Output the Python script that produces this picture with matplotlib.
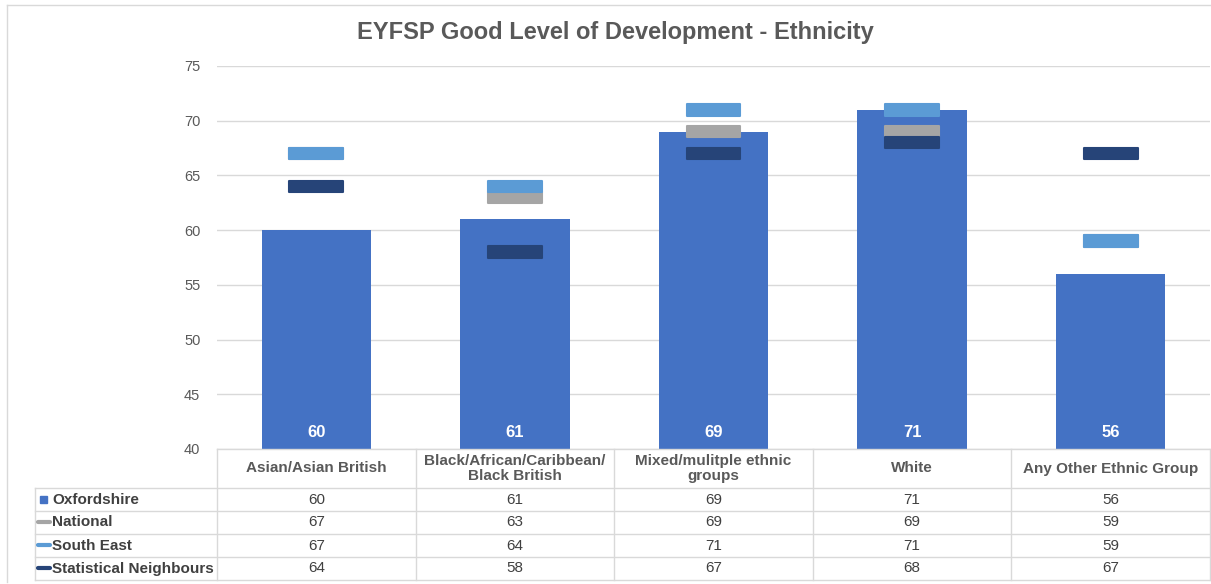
import numpy as np
import matplotlib.pyplot as plt
from matplotlib.patches import Rectangle
from matplotlib.lines import Line2D
import matplotlib.transforms as mtransforms

plt.rcParams['font.family'] = ['Liberation Sans', 'DejaVu Sans']

categories = ["Asian/Asian British", "Black/African/Caribbean/\nBlack British",
              "Mixed/mulitple ethnic\ngroups", "White", "Any Other Ethnic Group"]
oxfordshire = [60, 61, 69, 71, 56]
national = [67, 63, 69, 69, 59]
south_east = [67, 64, 71, 71, 59]
stat_neighbours = [64, 58, 67, 68, 67]

series_names = ["Oxfordshire", "National", "South East", "Statistical Neighbours"]
series_vals = [oxfordshire, national, south_east, stat_neighbours]
colors = ["#4472C4", "#A5A5A5", "#5B9BD5", "#264478"]

W, H = 1211, 584
fig = plt.figure(figsize=(W / 100, H / 100), dpi=100)

def fy(py):
    return 1 - py / H

def fx(px):
    return px / W

# outer chart frame
fig.add_artist(Line2D([fx(7), fx(7)], [fy(5), fy(582)], color="#D9D9D9", lw=1))
fig.add_artist(Line2D([fx(7), 1], [fy(5), fy(5)], color="#D9D9D9", lw=1))

ax = fig.add_axes([fx(217), fy(449), fx(1210) - fx(217), fy(66) - fy(449)])
x = np.arange(len(categories))
ax.set_xlim(-0.5, len(categories) - 0.5)
ax.set_ylim(40, 75)

ax.bar(x, oxfordshire, width=0.55, color=colors[0], zorder=2)
for xi, v in zip(x, oxfordshire):
    ax.text(xi, 41.5, str(v), ha="center", va="center", color="white",
            fontsize=12, fontweight="bold", zorder=5)

# marker dashes
mw, mh = 0.27, 1.05
for vals, col in zip(series_vals[1:], colors[1:]):
    for xi, v in zip(x, vals):
        ax.add_patch(Rectangle((xi - mw / 2, v - mh / 2), mw, mh, facecolor=col,
                               edgecolor=col, lw=1.5, joinstyle="round", zorder=3))

ax.set_yticks(np.arange(40, 76, 5))
ax.yaxis.grid(True, color="#D9D9D9", lw=1)
ax.set_axisbelow(True)
ax.set_xticks([])
for s in ax.spines.values():
    s.set_visible(False)
ax.tick_params(axis="y", length=0, pad=12, labelsize=10.5, labelcolor="#595959")

fig.text(0.508, fy(32), "EYFSP Good Level of Development - Ethnicity", ha="center",
         va="center", fontsize=17, fontweight="bold", color="#595959")

# data table
trans = mtransforms.blended_transform_factory(ax.transData, fig.transFigure)
grid_col = "#D9D9D9"
row_edges = [449, 488, 511, 534, 557, 580]
bounds = np.arange(len(categories) + 1) - 0.5
for b in bounds:
    fig.add_artist(Line2D([b, b], [fy(449), fy(580)], transform=trans, color=grid_col, lw=1))
for i, r in enumerate(row_edges):
    x0 = fx(35) if i > 0 else fx(217)
    fig.add_artist(Line2D([x0, 1], [fy(r), fy(r)], color=grid_col, lw=1))
fig.add_artist(Line2D([fx(35), fx(35)], [fy(488), fy(580)], color=grid_col, lw=1))

for xi, c in zip(x, categories):
    fig.text(xi, fy(468.5), c, transform=trans, ha="center", va="center",
             fontsize=11, fontweight="bold", color="#595959", linespacing=1.15)

for ri, (name, vals, col) in enumerate(zip(series_names, series_vals, colors)):
    yc = (row_edges[ri + 1] + row_edges[ri + 2]) / 2
    if ri == 0:
        fig.add_artist(Rectangle((fx(40), fy(yc + 3.5)), fx(7), fy(0) - fy(7), color=col))
    else:
        fig.add_artist(Line2D([fx(38), fx(50)], [fy(yc - 1), fy(yc - 1)], color=col, lw=3,
                              solid_capstyle="round"))
    fig.text(fx(52), fy(yc), name, ha="left", va="center", fontsize=11,
             fontweight="bold", color="#404040")
    for xi, v in zip(x, vals):
        fig.text(xi, fy(yc), str(v), transform=trans, ha="center", va="center",
                 fontsize=11, color="#404040")

fig.savefig("out.png", dpi=100)
